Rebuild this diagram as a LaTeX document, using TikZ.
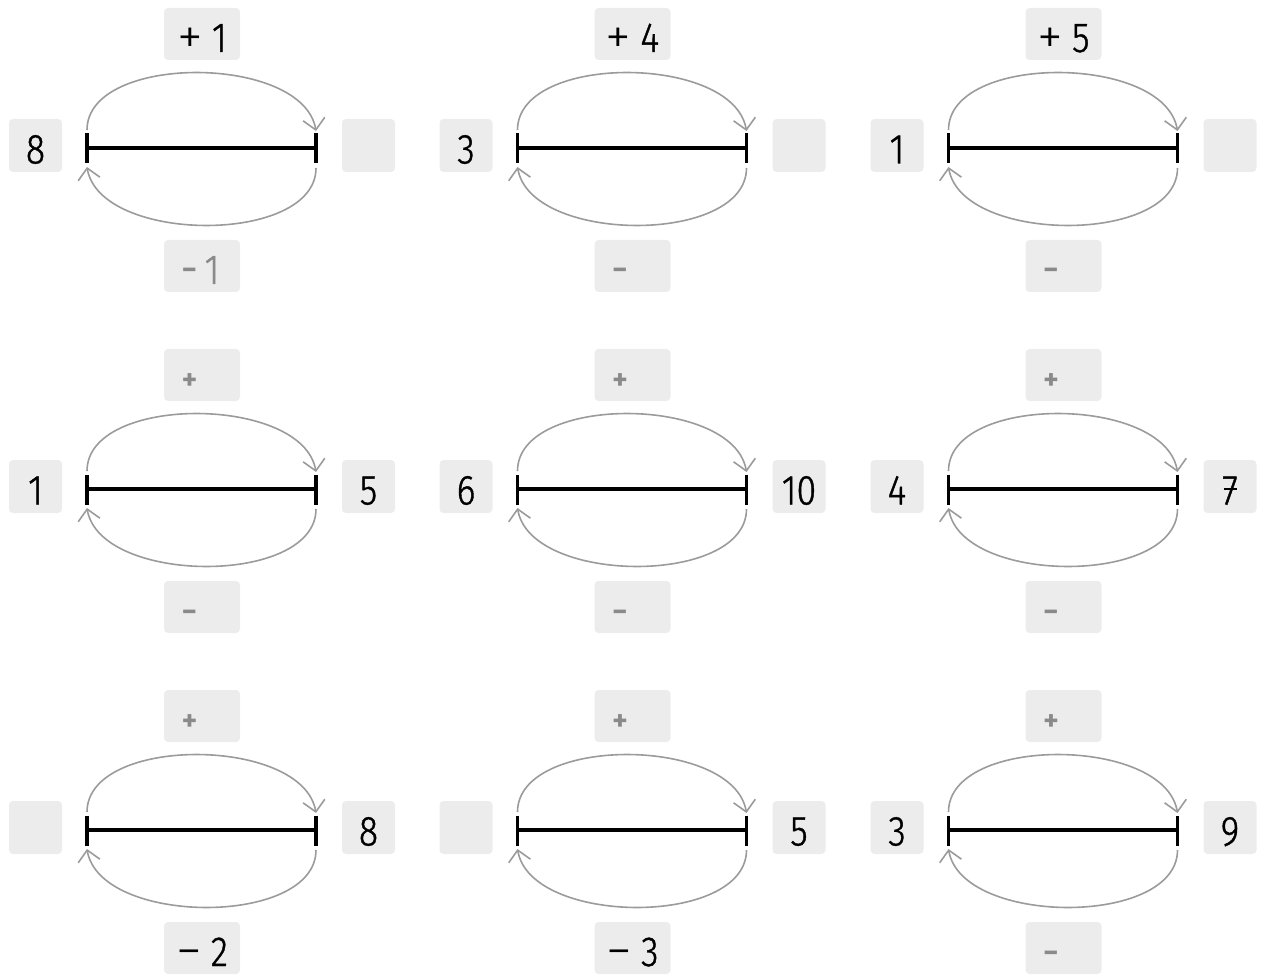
\documentclass[tikz,border=0pt]{standalone}
\usepackage{fontspec}
\setmainfont{Fira Sans}
\newfontfamily\numfont{Fira Sans Light}[FakeStretch=0.85,FakeBold=1]
\newfontfamily\signfont{Fira Sans Light}
\usetikzlibrary{arrows.meta,calc}
\definecolor{boxfill}{HTML}{ECECEC}
\definecolor{arcgray}{HTML}{9B9B9B}
\definecolor{phgray}{HTML}{8A8A8A}
\tikzset{
  sidebox/.style={fill=boxfill,rounded corners=4pt,minimum width=53pt,minimum height=53pt,inner sep=0pt,
    text height=36pt,text depth=0pt,font=\numfont\fontsize{42}{48}\selectfont},
  opbox/.style={fill=boxfill,rounded corners=4pt,minimum width=76pt,minimum height=52pt,inner sep=0pt},
  lbltext/.style={inner sep=0pt,text height=36pt,text depth=0pt,font=\numfont\fontsize{42}{48}\selectfont},
  phtext/.style={inner sep=0pt,anchor=base,text=phgray,font=\bfseries\fontsize{29}{33}\selectfont},
  numline/.style={line width=3.5pt,black},
  tickline/.style={line width=3.5pt,black},
  jumparc/.style={line width=1.6pt,arcgray,-{Straight Barb[length=11pt,width=22pt,line width=1.6pt]}},
}
\newcommand\plussign{\raisebox{-3pt}{\signfont\fontsize{52}{56}\selectfont +}}
\newcommand\minussign{\raisebox{-2pt}{\signfont\fontsize{52}{56}\selectfont −}}
\newcommand\toplbl[2]{\node[lbltext] (#1Tt) at (#1T) {#2};}
\newcommand\botlbl[2]{\node[lbltext] (#1Bt) at (#1B) {#2};}
\newcommand\topph[1]{\node[phtext] (#1Tp) at ($(#1T)+(-12.5,14.5)$) {+};}
\newcommand\botph[1]{\node[phtext] (#1Bp) at ($(#1B)+(-12.5,14)$) {−};}
\newcommand\numpanel[7]{%
  \begin{scope}[shift={(#1,#2)}]
    \node[sidebox] (#3L) at (35.5,145.5) {#4};
    \node[sidebox] (#3R) at (368.5,145.5) {#5};
    \node[opbox] (#3T) at (202,34) {};
    \node[opbox] (#3B) at (202,266) {};
    \coordinate (#3a) at (87,148);
    \coordinate (#3b) at (316,148);
    \draw[numline] (#3a) -- (#3b);
    \draw[tickline] ($(#3a)+(0,-14.5)$) -- ($(#3a)+(0,15.5)$);
    \draw[tickline] ($(#3b)+(0,-14.5)$) -- ($(#3b)+(0,15.5)$);
    \coordinate (#3ua) at ($(#3a)+(0,-18)$);
    \coordinate (#3ub) at ($(#3b)+(0,-17)$);
    \coordinate (#3la) at ($(#3a)+(0,19)$);
    \coordinate (#3lb) at ($(#3b)+(0,20)$);
    \draw[jumparc] (#3ua) .. controls ($(#3ua)+(0,-77)$) and ($(#3ub)+(-13,-77)$) .. (#3ub);
    \draw[jumparc] (#3lb) .. controls ($(#3lb)+(0,77)$) and ($(#3la)+(13,77)$) .. (#3la);
    #6
    #7
  \end{scope}}
\begin{document}
\begin{tikzpicture}[x=1pt,y=-1pt]
\useasboundingbox (0,0) rectangle (1264,976);
% row 1
\numpanel{0}{0}{a}{8}{}{\toplbl{a}{\plussign\kern9pt 1}}{\botph{a}\node[lbltext,text=phgray] (aBg) at ($(aB)+(10,0)$) {1};}
\numpanel{430.5}{0}{b}{3}{}{\toplbl{b}{\plussign\kern9pt 4}}{\botph{b}}
\numpanel{861.5}{0}{c}{1}{}{\toplbl{c}{\plussign\kern9pt 5}}{\botph{c}}
% row 2
\numpanel{0}{341}{d}{1}{5}{\topph{d}}{\botph{d}}
\numpanel{430.5}{341}{e}{6}{10}{\topph{e}}{\botph{e}}
\numpanel{861.5}{341}{f}{4}{7}{\topph{f}}{\botph{f}}
% row 3
\numpanel{0}{682}{g}{}{8}{\topph{g}}{\botlbl{g}{\minussign\kern9pt 2}}
\numpanel{430.5}{682}{h}{}{5}{\topph{h}}{\botlbl{h}{\minussign\kern9pt 3}}
\numpanel{861.5}{682}{k}{3}{9}{\topph{k}}{\botph{k}}
% crossbar of the 7
\draw[line width=2.4pt] ($(fR)+(-6.5,2.5)$) -- ($(fR)+(6.5,2.5)$);
\end{tikzpicture}
\end{document}
